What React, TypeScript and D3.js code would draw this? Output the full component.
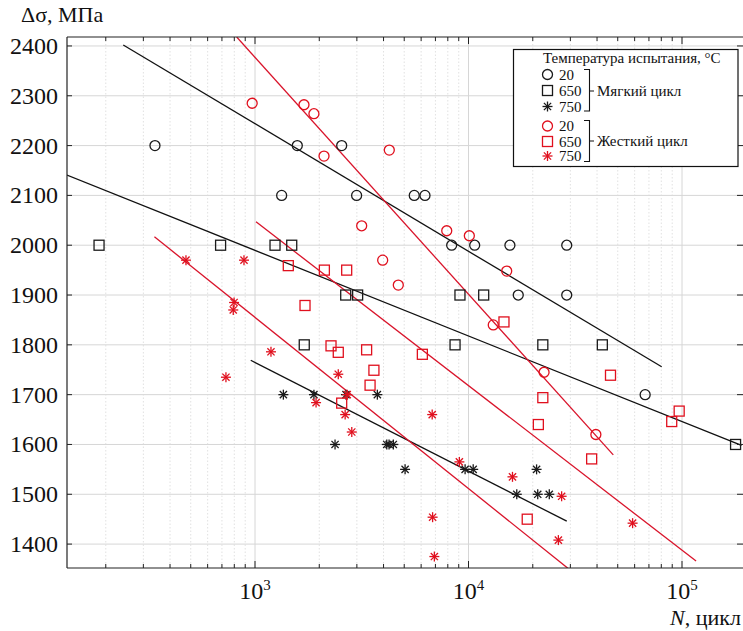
import React from "react";
import * as d3 from "d3";

// ---- data (N cycles, Δσ MPa) ----
const softCircles: [number, number][] = [
  [340, 2200], [1578, 2200], [2547, 2200], [1333, 2100], [2992, 2100], [5571, 2100], [6254, 2100],
  [8340, 2000], [10690, 2000], [15630, 2000], [28850, 2000], [17100, 1900], [28850, 1900], [67200, 1700],
];
const softSquares: [number, number][] = [
  [186, 2000], [690, 2000], [1241, 2000], [1486, 2000], [2660, 1900], [3025, 1900], [9120, 1900],
  [11780, 1900], [1701, 1800], [8650, 1800], [22290, 1800], [42350, 1800], [178200, 1600],
];
const softStars: [number, number][] = [
  [1358, 1700], [1888, 1700], [2668, 1700], [3742, 1700], [2371, 1600], [4142, 1600], [4245, 1600],
  [4446, 1600], [5047, 1550], [9640, 1550], [10520, 1550], [20840, 1550], [16830, 1500], [21100, 1500],
  [23900, 1500],
];
const hardCircles: [number, number][] = [
  [970, 2285], [1696, 2282], [1888, 2264], [2105, 2179], [4256, 2191], [3160, 2039], [3963, 1970],
  [4690, 1920], [7908, 2029], [10090, 2019], [15100, 1948], [13060, 1840], [22590, 1745], [39500, 1620],
];
const hardSquares: [number, number][] = [
  [1432, 1959], [2113, 1950], [2688, 1950], [1715, 1879], [2270, 1798], [2455, 1785], [2547, 1683],
  [3333, 1790], [6080, 1781], [3606, 1749], [3459, 1719], [14660, 1846], [46250, 1739], [22290, 1694],
  [21240, 1640], [37740, 1571], [97000, 1667], [89500, 1646], [18840, 1450],
];
const hardStars: [number, number][] = [
  [475, 1970], [888, 1970], [798, 1885], [791, 1870], [1188, 1786], [731, 1735], [2455, 1741],
  [1932, 1684], [2644, 1660], [2840, 1625], [2705, 1700], [6760, 1660], [9063, 1565], [16070, 1535],
  [27300, 1496], [6790, 1454], [6920, 1375], [26360, 1408], [58700, 1442],
];

// fit lines (endpoints)
const softLine20: [number, number][] = [[241.5, 2402], [80300, 1756]];
const softLine650: [number, number][] = [[131.6, 2141], [190000, 1598]];
const softLine750: [number, number][] = [[955, 1769], [28850, 1446]];
const hardLine20: [number, number][] = [[821, 2418], [47650, 1579]];
const hardLine650: [number, number][] = [[1011, 2047], [116400, 1366]];
const hardLine750: [number, number][] = [[338, 2017], [29500, 1350]];

const yTicks = [1400, 1500, 1600, 1700, 1800, 1900, 2000, 2100, 2200, 2300, 2400];
const xMajor = [1000, 10000, 100000];
const xMajorExp = ["3", "4", "5"];

const BLACK = "#1a1a1a";
const RED = "#e0101e";
const RED_LINE = "#d9142b";
const FONT = '"Liberation Serif", "Times New Roman", Times, "DejaVu Serif", serif';

const W = 743, H = 631;
const L = 67, R = 743, T = 37, B = 568;

type MType = "circle" | "square" | "star";

function Marker({ t, cx, cy, c }: { t: MType; cx: number; cy: number; c: string }) {
  if (t === "circle") return <circle cx={cx} cy={cy} r={5} fill="none" stroke={c} strokeWidth={1.3} />;
  if (t === "square") return <rect x={cx - 5} y={cy - 5} width={10} height={10} fill="none" stroke={c} strokeWidth={1.3} />;
  const d = 3.6;
  return (
    <g stroke={c} strokeWidth={1.3}>
      <line x1={cx - 5} y1={cy} x2={cx + 5} y2={cy} />
      <line x1={cx} y1={cy - 5} x2={cx} y2={cy + 5} />
      <line x1={cx - d} y1={cy - d} x2={cx + d} y2={cy + d} />
      <line x1={cx - d} y1={cy + d} x2={cx + d} y2={cy - d} />
    </g>
  );
}

export default function App() {
  const x = d3.scaleLog().domain([Math.pow(10, 3 - 188 / 213.5), Math.pow(10, 5 + (R - 682) / 213.5)]).range([L, R]);
  const y = d3.scaleLinear().domain([1352, 2418]).range([B, T]);
  const line = d3.line<[number, number]>().x((d) => x(d[0])).y((d) => y(d[1]));

  const minor: number[] = [];
  for (let e = 2; e <= 5; e++) {
    for (let m = 2; m <= 9; m++) {
      const v = m * Math.pow(10, e);
      const px = x(v);
      if (px > L && px < R) minor.push(v);
    }
  }

  const series: { data: [number, number][]; t: MType; c: string }[] = [
    { data: softCircles, t: "circle", c: BLACK },
    { data: softSquares, t: "square", c: BLACK },
    { data: softStars, t: "star", c: BLACK },
    { data: hardCircles, t: "circle", c: RED },
    { data: hardSquares, t: "square", c: RED },
    { data: hardStars, t: "star", c: RED },
  ];
  const lines: { d: [number, number][]; c: string }[] = [
    { d: softLine20, c: "#111" },
    { d: softLine650, c: "#111" },
    { d: softLine750, c: "#111" },
    { d: hardLine20, c: RED_LINE },
    { d: hardLine650, c: RED_LINE },
    { d: hardLine750, c: RED_LINE },
  ];

  const legendRows: { t: MType; c: string; label: string; y: number }[] = [
    { t: "circle", c: BLACK, label: "20", y: 74.5 },
    { t: "square", c: BLACK, label: "650", y: 90.5 },
    { t: "star", c: BLACK, label: "750", y: 106.5 },
    { t: "circle", c: RED, label: "20", y: 126 },
    { t: "square", c: RED, label: "650", y: 141.5 },
    { t: "star", c: RED, label: "750", y: 156 },
  ];

  const txt: React.CSSProperties = { fontFamily: FONT };

  return (
    <svg width={W} height={H} style={{ position: "absolute", left: 0, top: 0, background: "#fff", fontFamily: FONT }}>
      <defs>
        <clipPath id="plot">
          <rect x={L} y={T} width={R - L} height={B - T} />
        </clipPath>
      </defs>
      <rect x={0} y={0} width={W} height={H} fill="#fff" />
      {/* grid */}
      <g>
        {yTicks.map((v) => (
          <line key={"gy" + v} x1={L} x2={R} y1={y(v)} y2={y(v)} stroke="#d6d6d6" strokeWidth={1} />
        ))}
        {minor.map((v) => (
          <line key={"gmx" + v} x1={x(v)} x2={x(v)} y1={T} y2={B} stroke="#d9d9d9" strokeWidth={0.8} strokeDasharray="1.5,2" />
        ))}
        {xMajor.map((v) => (
          <line key={"gx" + v} x1={x(v)} x2={x(v)} y1={T} y2={B} stroke="#d6d6d6" strokeWidth={1} />
        ))}
      </g>
      {/* fit lines */}
      <g clipPath="url(#plot)" fill="none">
        {lines.map((l, i) => (
          <path key={"l" + i} d={line(l.d) || ""} stroke={l.c} strokeWidth={1.3} />
        ))}
      </g>
      {/* markers */}
      <g>
        {series.map((s, si) =>
          s.data.map((d, i) => <Marker key={si + "-" + i} t={s.t} cx={x(d[0])} cy={y(d[1])} c={s.c} />)
        )}
      </g>
      {/* axes frame */}
      <g stroke="#222" strokeWidth={1.2} fill="none">
        <line x1={L} x2={R} y1={T} y2={T} />
        <line x1={L} x2={L} y1={T} y2={B} />
        <line x1={L} x2={R} y1={B} y2={B} />
      </g>
      {/* ticks */}
      <g stroke="#222" strokeWidth={1}>
        {yTicks.map((v) => (
          <g key={"ty" + v}>
            <line x1={L} x2={L + 5} y1={y(v)} y2={y(v)} />
            <line x1={R - 6} x2={R} y1={y(v)} y2={y(v)} />
          </g>
        ))}
        {minor.map((v) => (
          <g key={"tmx" + v}>
            <line x1={x(v)} x2={x(v)} y1={B} y2={B - 4} />
            <line x1={x(v)} x2={x(v)} y1={T} y2={T + 4} />
          </g>
        ))}
        {xMajor.map((v) => (
          <g key={"tx" + v}>
            <line x1={x(v)} x2={x(v)} y1={B} y2={B - 7} />
            <line x1={x(v)} x2={x(v)} y1={T} y2={T + 7} />
          </g>
        ))}
      </g>
      {/* tick labels */}
      <g fontSize={24} fill="#111" style={txt}>
        {yTicks.map((v) => (
          <text key={"ly" + v} x={58} y={y(v) + 8} textAnchor="end" style={txt}>
            {v}
          </text>
        ))}
        {xMajor.map((v, i) => (
          <text key={"lx" + v} x={x(v)} y={599} textAnchor="middle" style={txt}>
            10
            <tspan fontSize={15} dy={-9}>
              {xMajorExp[i]}
            </tspan>
          </text>
        ))}
      </g>
      {/* axis titles */}
      <text x={21} y={22} fontSize={22} fill="#111" style={txt}>
        Δσ, МПа
      </text>
      <text x={741} y={625} fontSize={22} fill="#111" textAnchor="end" style={txt}>
        <tspan fontStyle="italic">N</tspan>, цикл
      </text>
      {/* legend */}
      <g style={txt}>
        <rect x={513.5} y={49.5} width={224.5} height={117} fill="#fff" stroke="#111" strokeWidth={1.2} />
        <text x={543} y={63} fontSize={15} fill="#111" style={txt}>
          Температура испытания, °С
        </text>
        {legendRows.map((r, i) => (
          <g key={"lg" + i}>
            <Marker t={r.t} cx={547.5} cy={r.y} c={r.c} />
            <text x={559} y={r.y + 5} fontSize={15} fill="#111" style={txt}>
              {r.label}
            </text>
          </g>
        ))}
        <g stroke="#111" strokeWidth={1.1} fill="none">
          <path d="M584,69.5 H589.5 V111 H584 M589.5,91 H594" />
          <path d="M584,120.5 H589.5 V161.5 H584 M589.5,141 H594" />
        </g>
        <text x={597} y={96} fontSize={15} fill="#111" style={txt}>
          Мягкий цикл
        </text>
        <text x={597} y={146} fontSize={15} fill="#111" style={txt}>
          Жесткий цикл
        </text>
      </g>
    </svg>
  );
}
